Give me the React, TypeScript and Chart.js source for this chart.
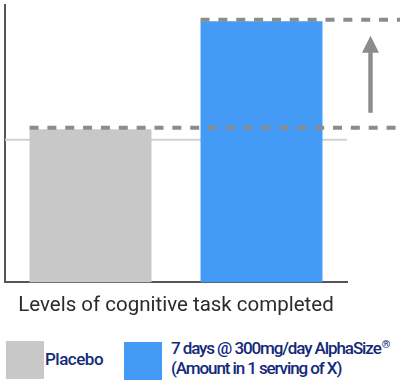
import React, { useEffect, useRef } from "react";
import { Chart, registerables } from "chart.js";

Chart.register(...registerables);

const categories = ["Placebo", "7 days @ 300mg/day AlphaSize®"];
const values = [55.2, 94.1];
const referenceLine = 51.4;
const yMax = 100;
const barColors = ["#c8c8c8", "#439bf5"];
const axisTitle = "Levels of cognitive task completed";
const legendLabels = ["Placebo", "7 days @ 300mg/day AlphaSize®", "(Amount in 1 serving of X)"];

const overlayPlugin = {
  id: "overlay",
  beforeDatasetsDraw(chart: any) {
    const { ctx, chartArea, scales } = chart;
    const y = scales.y;
    const ry = y.getPixelForValue(referenceLine);
    ctx.save();
    ctx.strokeStyle = "#d2d2d2";
    ctx.lineWidth = 2;
    ctx.beginPath();
    ctx.moveTo(chartArea.left, ry);
    ctx.lineTo(chartArea.right, ry);
    ctx.stroke();
    ctx.restore();
  },
  afterDatasetsDraw(chart: any) {
    const { ctx, scales } = chart;
    const y = scales.y;
    const meta = chart.getDatasetMeta(0);
    const W = chart.width;
    const tops: number[] = [];
    ctx.save();
    ctx.strokeStyle = "#8c8c8c";
    ctx.lineWidth = 4;
    ctx.setLineDash([9, 8.85]);
    meta.data.forEach((bar: any, i: number) => {
      const left = bar.x - bar.width / 2;
      const py = y.getPixelForValue(values[i]) - 1.5;
      tops.push(py);
      ctx.beginPath();
      ctx.moveTo(left, py);
      ctx.lineTo(W, py);
      ctx.stroke();
    });
    ctx.setLineDash([]);
    const ax = chart.chartArea.right + 23.5;
    const low = tops[0] - 15;
    const high = tops[1] + 16;
    const headH = 17;
    const headHalf = 8.5;
    ctx.fillStyle = "#8c8c8c";
    ctx.fillRect(ax - 2.2, high + headH - 1, 4.4, low - (high + headH - 1));
    ctx.beginPath();
    ctx.moveTo(ax, high);
    ctx.lineTo(ax + headHalf, high + headH);
    ctx.lineTo(ax - headHalf, high + headH);
    ctx.closePath();
    ctx.fill();
    ctx.restore();
  },
};

export default function App() {
  const ref = useRef<HTMLCanvasElement>(null);
  useEffect(() => {
    document.body.style.margin = "0";
    const chart = new Chart(ref.current!, {
      type: "bar",
      data: {
        labels: categories,
        datasets: [
          {
            data: values,
            backgroundColor: barColors,
            borderWidth: 0,
            barPercentage: 0.713,
            categoryPercentage: 1,
          },
        ],
      },
      options: {
        animation: false,
        responsive: false,
        layout: { padding: { left: 5, right: 53, top: 5, bottom: 0 } },
        plugins: { legend: { display: false }, tooltip: { enabled: false } },
        scales: {
          x: {
            grid: { display: false, drawTicks: false },
            border: { display: true, color: "#555", width: 2 },
            ticks: { display: false },
            title: {
              display: true,
              text: axisTitle,
              color: "#2b2b2b",
              font: { family: "Roboto", size: 20.5 },
              padding: { top: 11, bottom: 0 },
            },
          },
          y: {
            min: 0,
            max: yMax,
            grid: { display: false, drawTicks: false },
            border: { display: true, color: "#555", width: 2 },
            ticks: { display: false },
          },
        },
      },
      plugins: [overlayPlugin],
    });
    return () => chart.destroy();
  }, []);

  const textStyle: React.CSSProperties = {
    position: "absolute",
    fontFamily: "Roboto",
    fontWeight: 500,
    color: "#13297a",
    fontSize: 17,
    letterSpacing: -1.1,
    whiteSpace: "nowrap",
  };

  const [main, reg] = legendLabels[1].split("®");

  return (
    <div style={{ position: "absolute", left: 0, top: 0, width: 400, height: 387, background: "#fff" }}>
      <canvas ref={ref} width={400} height={318} style={{ position: "absolute", left: 0, top: 0 }} />
      <div style={{ position: "absolute", left: 6, top: 341, width: 38, height: 38, background: barColors[0] }} />
      <div style={{ ...textStyle, left: 45, top: 349, lineHeight: "20px", letterSpacing: -0.5 }}>{legendLabels[0]}</div>
      <div style={{ position: "absolute", left: 124, top: 342, width: 38, height: 38, background: barColors[1] }} />
      <div style={{ ...textStyle, left: 171, top: 338, lineHeight: "20px" }}>
        {main}
        <sup style={{ fontSize: 11, lineHeight: 0, verticalAlign: "6px", marginLeft: 1 }}>®</sup>
        {reg}
        <br />
        {legendLabels[2]}
      </div>
    </div>
  );
}
